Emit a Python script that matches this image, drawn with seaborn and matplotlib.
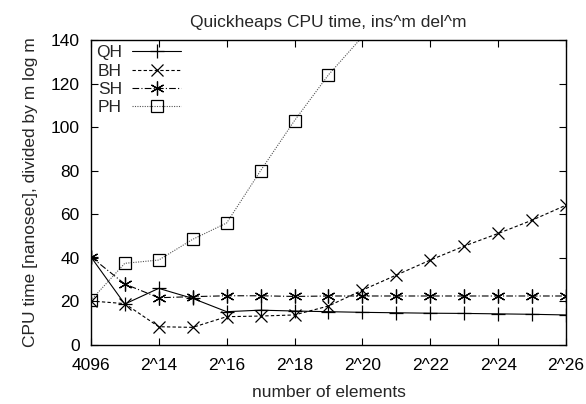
import numpy as np
import pandas as pd
import matplotlib
matplotlib.use("Agg")
import matplotlib.pyplot as plt
import seaborn as sn

sizes = [4096, 8192, 16384, 32768, 65536, 131072, 262144, 524288, 1048576,
         2097152, 4194304, 8388608, 16777216, 33554432, 67108864]
tick_labels = ["4096", "2^14", "2^16", "2^18", "2^20", "2^22", "2^24", "2^26"]

qh = [40.5, 18.8, 26.0, 21.4, 15.3, 16.0, 15.6, 15.3, 15.0, 14.8, 14.6, 14.5, 14.3, 14.1, 13.8]
bh = [20.2, 19.0, 8.4, 8.1, 13.0, 13.3, 13.8, 17.9, 25.2, 32.1, 39.0, 45.4, 51.2, 57.3, 64.2]
sh = [40.5, 28.0, 21.7, 22.2, 22.6, 22.6, 22.3, 22.5, 22.5, 22.5, 22.5, 22.5, 22.5, 22.5, 22.5]
ph = [20.5, 37.5, 39.0, 48.5, 56.0, 80.0, 103.0, 124.0, 141.5]

YMAX = 140

if __name__ == "__main__":
    sn.set_style("ticks")
    plt.rcParams['font.family'] = ['Liberation Sans', 'DejaVu Sans']
    fs = 12.5
    fig = plt.figure(figsize=(5.86, 4.04), dpi=100)
    ax = fig.add_axes([0.155, 0.146, 0.811, 0.755])

    asterisk = (6, 2, 0)
    styles = [
        ("QH", sizes, qh, "-", "+", "black", 10),
        ("BH", sizes, bh, (0, (3, 2)), "x", "black", 9),
        ("SH", sizes, sh, (0, (6, 2, 1, 2)), asterisk, "black", 10),
        ("PH", sizes[:len(ph)], ph, (0, (1, 1.2)), "s", "#555555", 8),
    ]
    handles = []
    for name, xs, ys, ls, mk, col, ms in styles:
        df = pd.DataFrame({"n": xs, "t": ys})
        # gnuplot leaves out points beyond the y range, only the line runs on
        shown = [i for i, v in enumerate(ys) if v <= YMAX]
        sn.lineplot(data=df, x="n", y="t", ax=ax, color=col, linestyle=ls,
                    linewidth=0.8, marker=mk, markersize=ms, markevery=shown,
                    markerfacecolor="none", markeredgecolor="black",
                    markeredgewidth=0.9, legend=False)
        h, = ax.plot([], [], color=col, linestyle=ls, linewidth=0.8, marker=mk,
                     markersize=ms, markerfacecolor="none",
                     markeredgecolor="black", markeredgewidth=0.9)
        handles.append(h)

    ax.set_xscale("log", base=2)
    ax.set_xlim(sizes[0], sizes[-1])
    ax.set_ylim(0, YMAX)
    ax.set_xticks(sizes[::2])
    ax.set_xticklabels(tick_labels)
    ax.xaxis.set_minor_locator(matplotlib.ticker.NullLocator())
    ax.set_yticks(range(0, YMAX + 1, 20))
    ax.tick_params(direction="in", top=True, right=True, length=5, width=0.8,
                   labelsize=fs, colors="black")
    ax.tick_params(axis="x", pad=9)
    ax.tick_params(axis="y", pad=8)
    for s in ax.spines.values():
        s.set_linewidth(1.0)
        s.set_color("black")
        s.set_visible(True)

    ax.set_xlabel("number of elements", fontsize=fs, labelpad=9)
    ax.set_ylabel("CPU time [nanosec], divided by m log m", fontsize=fs, labelpad=9)
    ax.set_title("Quickheaps CPU time, ins^m del^m", fontsize=fs, pad=9)

    leg = ax.legend(handles, ["QH", "BH", "SH", "PH"], loc="upper left",
                    frameon=False, markerfirst=False, fontsize=fs,
                    handlelength=2.8, handletextpad=0.6, labelspacing=0.18,
                    borderpad=0.3, borderaxespad=0.0)
    plt.savefig("out.png", dpi=100)
